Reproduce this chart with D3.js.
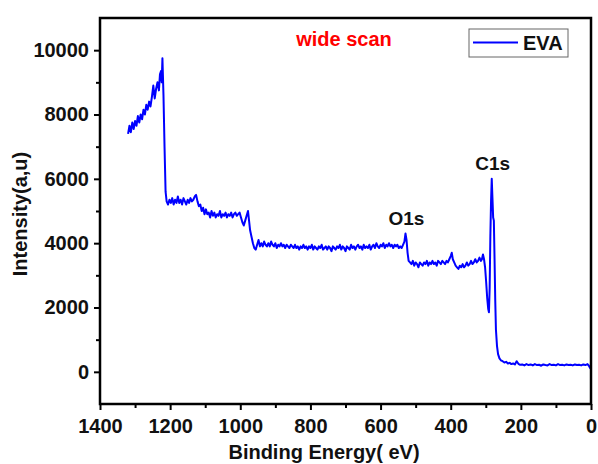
<!DOCTYPE html>
<html>
<head>
<meta charset="utf-8">
<script src="https://cdn.jsdelivr.net/npm/d3@7"></script>
<style>
  html, body { margin: 0; padding: 0; background: #fff; }
  svg { display: block; font-family: Arial, "Liberation Sans", sans-serif; }
</style>
</head>
<body>
<svg id="chart" width="598" height="464"></svg>
<script>
// XPS wide scan of EVA: binding energy (eV) vs. intensity (a.u.)
const bindingEnergy = [
  1320,1316,1312,1308,1304,1300,1296,1292,1288,1284,1280,1276,1272,1268,1264,1260,1256,1252,1248,1244,
  1240,1236,1232,1229,1226,1224,1222,1219,1216,1213,1210,1206,1202,1198,1194,1190,1186,1182,1178,1174,
  1170,1166,1162,1158,1154,1150,1146,1142,1138,1134,1130,1126,1122,1118,1114,1110,1106,1102,1098,1094,
  1090,1086,1082,1078,1074,1070,1066,1062,1058,1054,1050,1046,1042,1038,1034,1030,1026,1022,1018,1014,
  1010,1006,1002,998,994,990,986,982,978,975,972,968,964,960,956,952,948,944,940,936,
  932,928,924,920,916,912,908,904,900,896,892,888,884,880,876,872,868,864,860,856,
  852,848,844,840,836,832,828,824,820,816,812,808,804,800,796,792,788,784,780,776,
  772,768,764,760,756,752,748,744,740,736,732,728,724,720,716,712,708,704,700,696,
  692,688,684,680,676,672,668,664,660,656,652,648,644,640,636,632,628,624,620,616,
  612,608,604,600,596,592,588,584,580,576,572,568,564,560,556,552,548,544,540,536,
  532,529,526,523,520,516,512,508,504,500,496,492,488,484,480,476,472,468,464,460,
  456,452,448,444,440,436,432,428,424,420,416,412,408,404,400,397,394,390,386,382,
  378,374,370,366,362,358,354,350,346,342,338,334,330,326,322,318,314,311,308,305,
  302,299,296,293,291,289,287,285,283,281,279,277,275,273,271,268,265,261,257,252,
  247,242,237,232,227,222,217,212,207,202,196,190,184,178,172,166,160,154,148,142,
  136,130,124,118,112,106,100,94,88,82,76,70,64,58,52,46,40,34,28,22,
  16,10,6,3,1
];

const intensity = [
  7400,7650,7450,7750,7550,7800,7650,7950,7750,8000,7850,8150,8000,8300,8150,8400,8250,8550,8900,8500,
  8800,9000,8750,9250,9350,9000,9750,8600,7000,5600,5300,5200,5350,5250,5400,5200,5350,5250,5450,5250,
  5350,5200,5400,5300,5200,5350,5250,5400,5300,5350,5450,5500,5300,5150,5200,5000,5100,4900,5050,4900,
  4950,4800,5000,4850,4950,4800,4900,4850,5000,4800,4900,4850,4950,4800,4900,4850,4950,4800,4900,4950,
  4850,4900,4950,4800,4650,4550,4700,4850,5000,4700,4400,4200,4000,3850,3800,3950,4100,3900,4000,3900,
  4050,3950,3900,4000,3900,4050,3950,3900,4000,3850,3950,3900,4000,3900,3950,3850,3950,3900,3850,3950,
  3900,3850,3950,3850,3900,3800,3900,3850,3950,3850,3900,3800,3900,3850,3950,3800,3900,3850,3800,3900,
  3850,3950,3800,3850,3900,3800,3900,3850,3750,3900,3850,3800,3900,3850,3950,3800,3900,3850,3750,3900,
  3850,3800,3950,3850,3900,3800,3900,3950,3850,3900,3800,3950,3850,3900,3850,3950,3800,3900,3950,3850,
  4000,3900,3850,3950,3900,4000,3850,3950,3900,4000,3900,3950,3850,3950,3900,3950,3850,3900,3850,3950,
  4050,4300,4100,3700,3450,3400,3350,3450,3300,3400,3350,3250,3400,3350,3300,3400,3350,3450,3300,3400,
  3350,3450,3350,3400,3300,3450,3400,3350,3450,3400,3350,3450,3400,3500,3600,3700,3500,3400,3300,3250,
  3200,3300,3250,3350,3250,3300,3400,3300,3350,3450,3350,3400,3500,3400,3450,3550,3450,3500,3650,3500,
  3250,2800,2300,1950,1850,2600,4200,5300,6000,5400,4800,4700,3500,2200,1300,800,550,420,360,330,
  290,310,260,280,240,260,230,330,250,220,230,200,240,210,230,200,240,210,220,190,
  230,210,200,240,210,220,200,240,210,220,200,230,210,220,200,230,210,220,200,230,
  210,240,190,130,100
];

const xTickMajor = [1400, 1200, 1000, 800, 600, 400, 200, 0];
const xTickMinor = [1300, 1100, 900, 700, 500, 300, 100];
const yTickMajor = [0, 2000, 4000, 6000, 8000, 10000];
const yTickMinor = [1000, 3000, 5000, 7000, 9000];

const peakLabels = ["O1s", "C1s"];
const peakEnergy = [529, 283];
const peakIntensity = [4300, 6000];

const seriesName = "EVA";
const noteText = "wide scan";
const xTitle = "Binding Energy( eV)";
const yTitle = "Intensity(a,u)";

const svg = d3.select("#chart");
const plot = { left: 100, right: 591, top: 18, bottom: 404 };

const x = d3.scaleLinear().domain([1400, 0]).range([plot.left, plot.right]);
const y = d3.scaleLinear().domain([-1000, 11000]).range([plot.bottom, plot.top]);

const fontBold = "bold 20px Arial, 'Liberation Sans', sans-serif";

// spectrum line
const points = bindingEnergy.map((e, i) => [e, intensity[i]]);
svg.append("path")
  .datum(points)
  .attr("fill", "none")
  .attr("stroke", "#0000ff")
  .attr("stroke-width", 2)
  .attr("stroke-linejoin", "round")
  .attr("d", d3.line().x(d => x(d[0])).y(d => y(d[1])));

// bottom axis: major and minor ticks
svg.append("g")
  .attr("transform", `translate(0,${plot.bottom})`)
  .call(d3.axisBottom(x).tickValues(xTickMajor).tickSize(6).tickPadding(9).tickFormat(d3.format("d")));
svg.append("g")
  .attr("transform", `translate(0,${plot.bottom})`)
  .call(d3.axisBottom(x).tickValues(xTickMinor).tickSize(4).tickFormat(""));

// left axis: major and minor ticks
svg.append("g")
  .attr("transform", `translate(${plot.left},0)`)
  .call(d3.axisLeft(y).tickValues(yTickMajor).tickSize(6).tickPadding(5).tickFormat(d3.format("d")));
svg.append("g")
  .attr("transform", `translate(${plot.left},0)`)
  .call(d3.axisLeft(y).tickValues(yTickMinor).tickSize(4).tickFormat(""));

svg.selectAll(".domain").remove();
svg.selectAll(".tick line").attr("stroke", "#000").attr("stroke-width", 2);
svg.selectAll(".tick text")
  .style("font", fontBold)
  .attr("fill", "#111");

// frame around the plot area
svg.append("rect")
  .attr("x", plot.left).attr("y", plot.top)
  .attr("width", plot.right - plot.left).attr("height", plot.bottom - plot.top)
  .attr("fill", "none").attr("stroke", "#000").attr("stroke-width", 2.5);

// axis titles
svg.append("text")
  .attr("x", 324).attr("y", 459)
  .attr("text-anchor", "middle")
  .style("font", fontBold).attr("fill", "#111")
  .text(xTitle);

svg.append("text")
  .attr("transform", `translate(27,${(plot.top + plot.bottom) / 2 + 3}) rotate(-90)`)
  .attr("text-anchor", "middle")
  .style("font", fontBold).attr("fill", "#111")
  .text(yTitle);

// peak annotations
svg.selectAll(".peak")
  .data(peakLabels)
  .join("text")
  .attr("class", "peak")
  .attr("x", (d, i) => x(peakEnergy[i]) + 1)
  .attr("y", (d, i) => y(peakIntensity[i]) - 9)
  .attr("text-anchor", "middle")
  .style("font", "bold 19px Arial, 'Liberation Sans', sans-serif")
  .attr("fill", "#111")
  .text(d => d);

// note
svg.append("text")
  .attr("x", 344).attr("y", 46)
  .attr("text-anchor", "middle")
  .style("font", fontBold).attr("fill", "#ff0000")
  .text(noteText);

// legend
const legend = svg.append("g").attr("transform", "translate(469,29)");
legend.append("rect")
  .attr("width", 99).attr("height", 28)
  .attr("fill", "#fff").attr("stroke", "#666").attr("stroke-width", 1);
legend.append("line")
  .attr("x1", 4).attr("x2", 49).attr("y1", 13.5).attr("y2", 13.5)
  .attr("stroke", "#0000ff").attr("stroke-width", 1.8);
legend.append("text")
  .attr("x", 54).attr("y", 20.5)
  .style("font", fontBold).attr("fill", "#111")
  .text(seriesName);
</script>
</body>
</html>
